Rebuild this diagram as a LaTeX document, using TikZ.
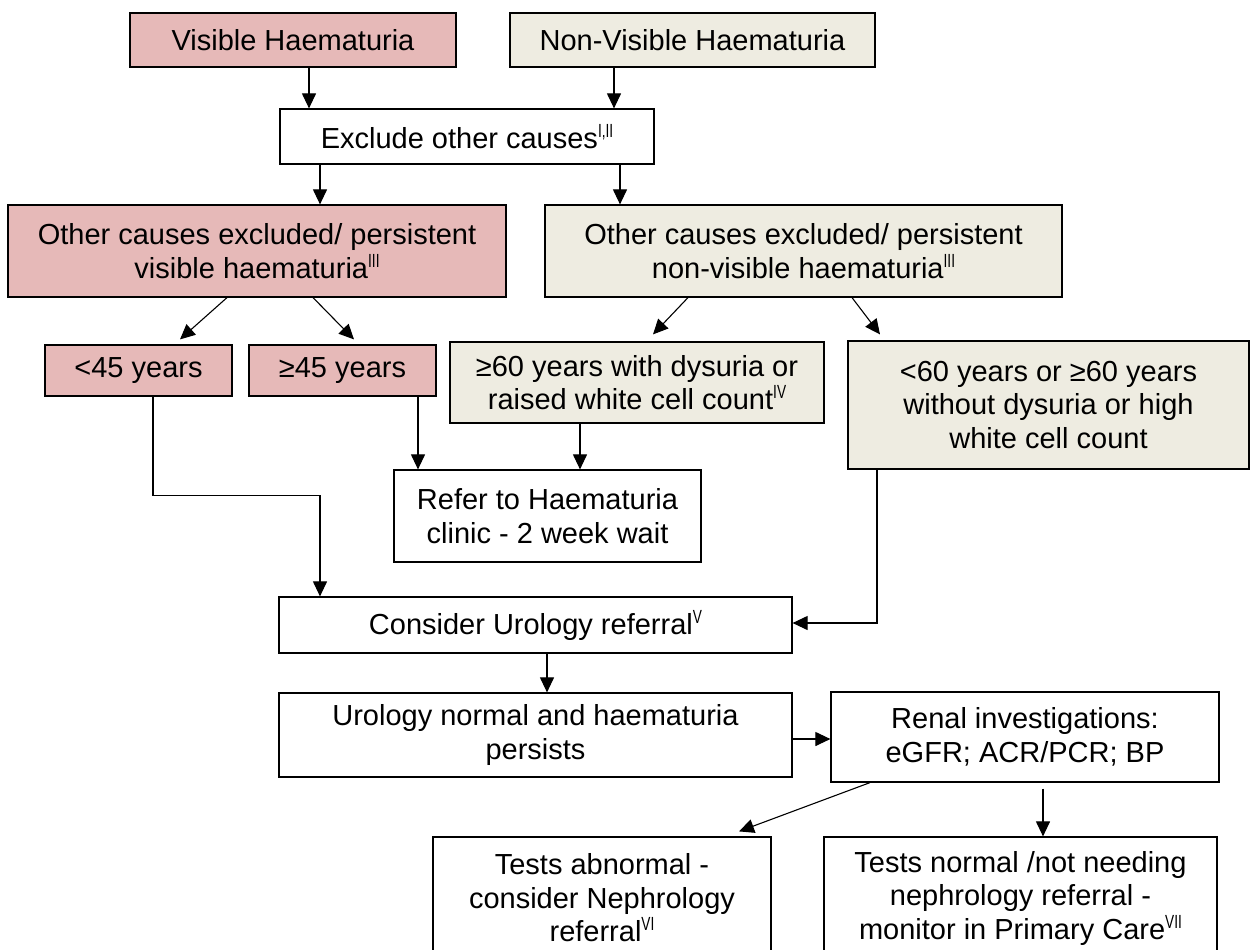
\documentclass[tikz,border=0pt]{standalone}
\usepackage{fontspec}
\setmainfont{Liberation Sans}
\newfontfamily\supfont[FakeStretch=0.72]{Liberation Sans}
\usepackage{tikz}
\usetikzlibrary{arrows.meta}

\definecolor{vispink}{HTML}{E6B9B8}
\definecolor{nonvisbeige}{HTML}{EEECE1}
\newcommand{\refmark}[1]{\raisebox{11pt}{\supfont\fontsize{19}{19}\selectfont #1}}

\begin{document}
\begin{tikzpicture}[x=1pt,y=-1pt,
    font=\fontsize{29}{33.5}\selectfont,
    >={Triangle[length=15pt,width=14pt]},
    box/.style={draw,line width=1.2pt,rectangle,inner sep=0pt,align=center},
    pinkbox/.style={box,fill=vispink},
    beigebox/.style={box,fill=nonvisbeige},
    plainbox/.style={box,fill=white},
    link/.style={->,line width=1.1pt}]
                \useasboundingbox (0,0) rectangle (1253,950);

                \node[pinkbox,minimum width=326pt,minimum height=54pt] (vis) at (293, 40) {Visible Haematuria};
                \node[beigebox,minimum width=365pt,minimum height=54pt] (nvis) at (692.5, 40) {Non-Visible Haematuria};
                \node[plainbox,minimum width=374pt,minimum height=55pt] (excl) at (467, 136.5) {Exclude other causes\refmark{I,II}};
                \node[pinkbox,minimum width=498pt,minimum height=92pt] (othv) at (257, 251) {Other causes excluded/ persistent\\visible haematuria\refmark{III}};
                \node[beigebox,minimum width=517pt,minimum height=92pt] (othnv) at (803.5, 251) {Other causes excluded/ persistent\\non-visible haematuria\refmark{III}};
                \node[pinkbox,minimum width=187pt,minimum height=51pt] (lt45) at (138.5, 370.5) {<45 years};
                \node[pinkbox,minimum width=187pt,minimum height=51pt] (ge45) at (342.5, 370.5) {≥45 years};
                \node[beigebox,minimum width=374pt,minimum height=81pt] (ge60) at (637, 382.5) {≥60 years with dysuria or\\raised white cell count\refmark{IV}};
                \node[beigebox,minimum width=401pt,minimum height=128pt] (lt60) at (1048.5, 405) {<60 years or ≥60 years\\without dysuria or high\\white cell count};
                \node[plainbox,minimum width=307pt,minimum height=92pt] (refer) at (547.5, 516) {Refer to Haematuria\\clinic - 2 week wait};
                \node[plainbox,minimum width=513pt,minimum height=56pt] (consider) at (535.5, 625) {Consider Urology referral\refmark{V}};
                \node[plainbox,minimum width=513pt,minimum height=84pt] (uronorm) at (535.5, 735) {Urology normal and haematuria\\persists};
                \node[plainbox,minimum width=388pt,minimum height=90pt] (renal) at (1025, 737) {Renal investigations:\\eGFR; ACR/PCR; BP};
                \node[plainbox,minimum width=338pt,minimum height=122pt] (testab) at (602, 898) {Tests abnormal -\\consider Nephrology\\referral\refmark{VI}};
                \node[plainbox,minimum width=393pt,minimum height=122pt] (testnorm) at (1020.5, 898) {Tests normal /not needing\\nephrology referral -\\monitor in Primary Care\refmark{VII}};

                \draw[link] ([xshift=16pt]vis.south) -- ([xshift=16pt]vis.south |- excl.north);
                \draw[link] ([xshift=-78.5pt]nvis.south) -- ([xshift=-78.5pt]nvis.south |- excl.north);
                \draw[link] ([xshift=-147pt]excl.south) -- ([xshift=-147pt]excl.south |- othv.north);
                \draw[link] ([xshift=153pt]excl.south) -- ([xshift=153pt]excl.south |- othnv.north);
                \draw[link] ([xshift=-30pt]othv.south) -- ([xshift=41.5pt,yshift=5pt]lt45.north);
                \draw[link] ([xshift=56pt]othv.south) -- ([xshift=11.5pt,yshift=5pt]ge45.north);
                \draw[link] ([xshift=-115.5pt]othnv.south) -- ([xshift=16pt,yshift=7pt]ge60.north);
                \draw[link] ([xshift=48.5pt]othnv.south) -- ([xshift=-168.5pt,yshift=6pt]lt60.north);
                \draw[link] ([xshift=14.5pt]lt45.south) -- ++(0,99) -| ([xshift=-215.5pt]consider.north);
                \draw[link] ([xshift=75.5pt]ge45.south) -- ([xshift=75.5pt]ge45.south |- refer.north);
                \draw[link] ([xshift=-57pt]ge60.south) -- ([xshift=-57pt]ge60.south |- refer.north);
                \draw[link] ([xshift=-171.5pt]lt60.south) |- ([yshift=2pt]consider.east);
                \draw[link] ([xshift=11.5pt]consider.south) -- ([xshift=11.5pt]consider.south |- uronorm.north);
                \draw[link] ([yshift=-4pt]uronorm.east) -- ([yshift=-4pt]uronorm.east -| renal.west);
                \draw[link] ([xshift=-155pt]renal.south) -- ([xshift=137pt,yshift=5pt]testab.north);
                \draw[link] ([xshift=18pt,yshift=-6pt]renal.south) -- ([xshift=18pt]renal.south |- testnorm.north);
            \end{tikzpicture}
\end{document}
